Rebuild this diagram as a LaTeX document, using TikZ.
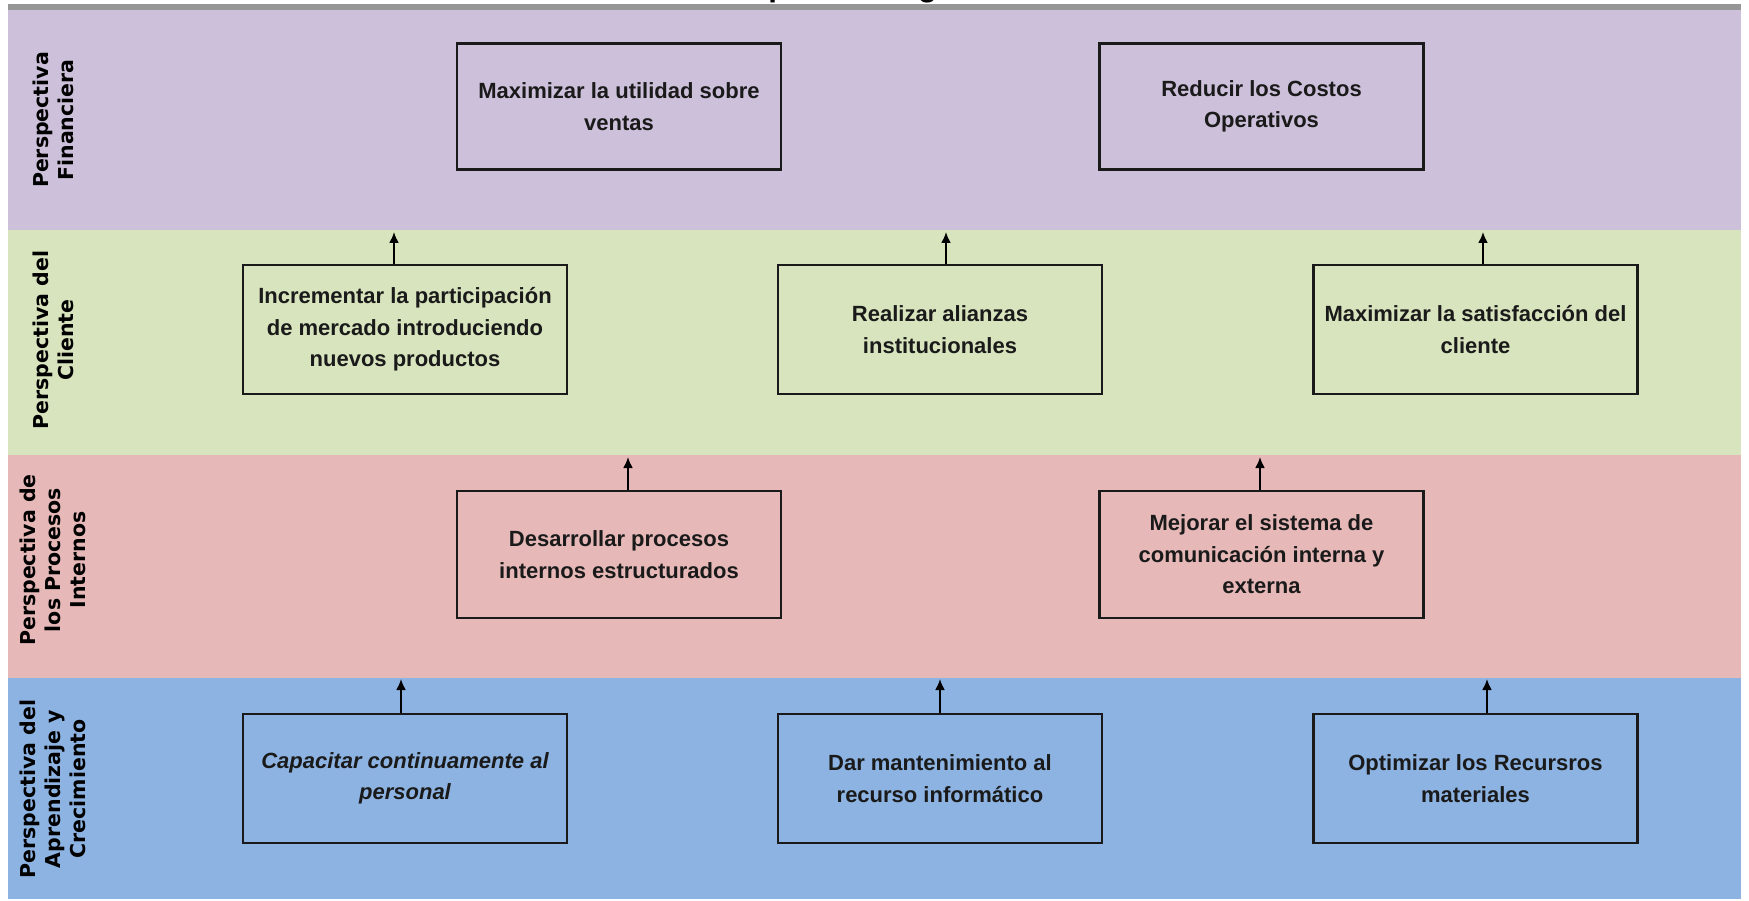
\documentclass[tikz,border=0pt]{standalone}
\usepackage{fontspec}
\setmainfont{Liberation Sans}
\newfontfamily\labelfont{DejaVu Sans}
\usetikzlibrary{arrows.meta}

\definecolor{bandfin}{HTML}{CCC0DA}
\definecolor{bandcli}{HTML}{D7E4BD}
\definecolor{bandpro}{HTML}{E6B9B8}
\definecolor{bandapr}{HTML}{8DB3E2}
\definecolor{topbar}{HTML}{969696}
\definecolor{ink}{HTML}{1A1A1A}

\tikzset{
  objbox/.style={draw=ink, line width=2.4pt, minimum width=324pt, minimum height=127pt,
    inner sep=0pt, align=center, text=ink,
    font=\bfseries\fontsize{22}{31.5}\selectfont},
  sidelabel/.style={rotate=90, align=center, text=black,
    font=\labelfont\bfseries\fontsize{20.5}{25}\selectfont},
  uparrow/.style={draw=black, line width=2pt, -{Latex[length=11pt,width=10pt]}}
}

\begin{document}
\begin{tikzpicture}[x=1pt, y=-1pt]
\useasboundingbox (0,0) rectangle (1749,901);
\clip (0,0) rectangle (1749,901);

% title, mostly above the visible area
\node[anchor=base west, inner sep=0pt, font=\bfseries\fontsize{31}{36}\selectfont] (title) at (725,-3.5) {Mapa Estratégico};

% perspective bands
\fill[topbar] (8,4) rectangle (1741,10);
\fill[bandfin] (8,10) rectangle (1741,230);
\fill[bandcli] (8,230) rectangle (1741,455);
\fill[bandpro] (8,455) rectangle (1741,678);
\fill[bandapr] (8,678) rectangle (1741,899);

% band labels
\node[sidelabel] (lfin) at (53,120) {Perspectiva\\Financiera};
\node[sidelabel] (lcli) at (53,340) {Perspectiva del\\Cliente};
\node[sidelabel] (lpro) at (53,560) {Perspectiva de\\los Procesos\\Internos};
\node[sidelabel] (lapr) at (53,789) {Perspectiva del\\Aprendizaje y\\Crecimiento};

% financial objectives
\node[objbox, minimum height=126pt] (f1) at (619,106.5) {Maximizar la utilidad sobre\\ventas};
\node[objbox, minimum height=126pt] (f2) at (1261.5,106.5) {Reducir los Costos\\Operativos};

% customer objectives
\node[objbox, minimum height=129pt] (c1) at (405,329.5) {Incrementar la participación\\de mercado introduciendo\\nuevos productos};
\node[objbox, minimum height=129pt] (c2) at (940,329.5) {Realizar alianzas\\institucionales};
\node[objbox, minimum height=129pt] (c3) at (1475.5,329.5) {Maximizar la satisfacción del\\cliente};

% internal process objectives
\node[objbox] (p1) at (619,554.5) {Desarrollar procesos\\internos estructurados};
\node[objbox] (p2) at (1261.5,554.5) {Mejorar el sistema de\\comunicación interna y\\externa};

% learning and growth objectives
\node[objbox, minimum height=128.5pt] (a1) at (405,778.5) {\itshape Capacitar continuamente al\\\itshape personal};
\node[objbox, minimum height=128.5pt] (a2) at (940,778.5) {Dar mantenimiento al\\recurso informático};
\node[objbox, minimum height=128.5pt] (a3) at (1475.5,778.5) {Optimizar los Recursros\\materiales};

% arrow ends at the band boundaries
\coordinate (tc1) at (394,232);
\coordinate (tc2) at (946,232);
\coordinate (tc3) at (1483,232);
\coordinate (tp1) at (628,457);
\coordinate (tp2) at (1260,457);
\coordinate (ta1) at (401,679);
\coordinate (ta2) at (940,679);
\coordinate (ta3) at (1487,679);

\draw[uparrow] (c1.north -| tc1) -- (tc1);
\draw[uparrow] (c2.north -| tc2) -- (tc2);
\draw[uparrow] (c3.north -| tc3) -- (tc3);
\draw[uparrow] (p1.north -| tp1) -- (tp1);
\draw[uparrow] (p2.north -| tp2) -- (tp2);
\draw[uparrow] (a1.north -| ta1) -- (ta1);
\draw[uparrow] (a2.north -| ta2) -- (ta2);
\draw[uparrow] (a3.north -| ta3) -- (ta3);
\end{tikzpicture}
\end{document}
